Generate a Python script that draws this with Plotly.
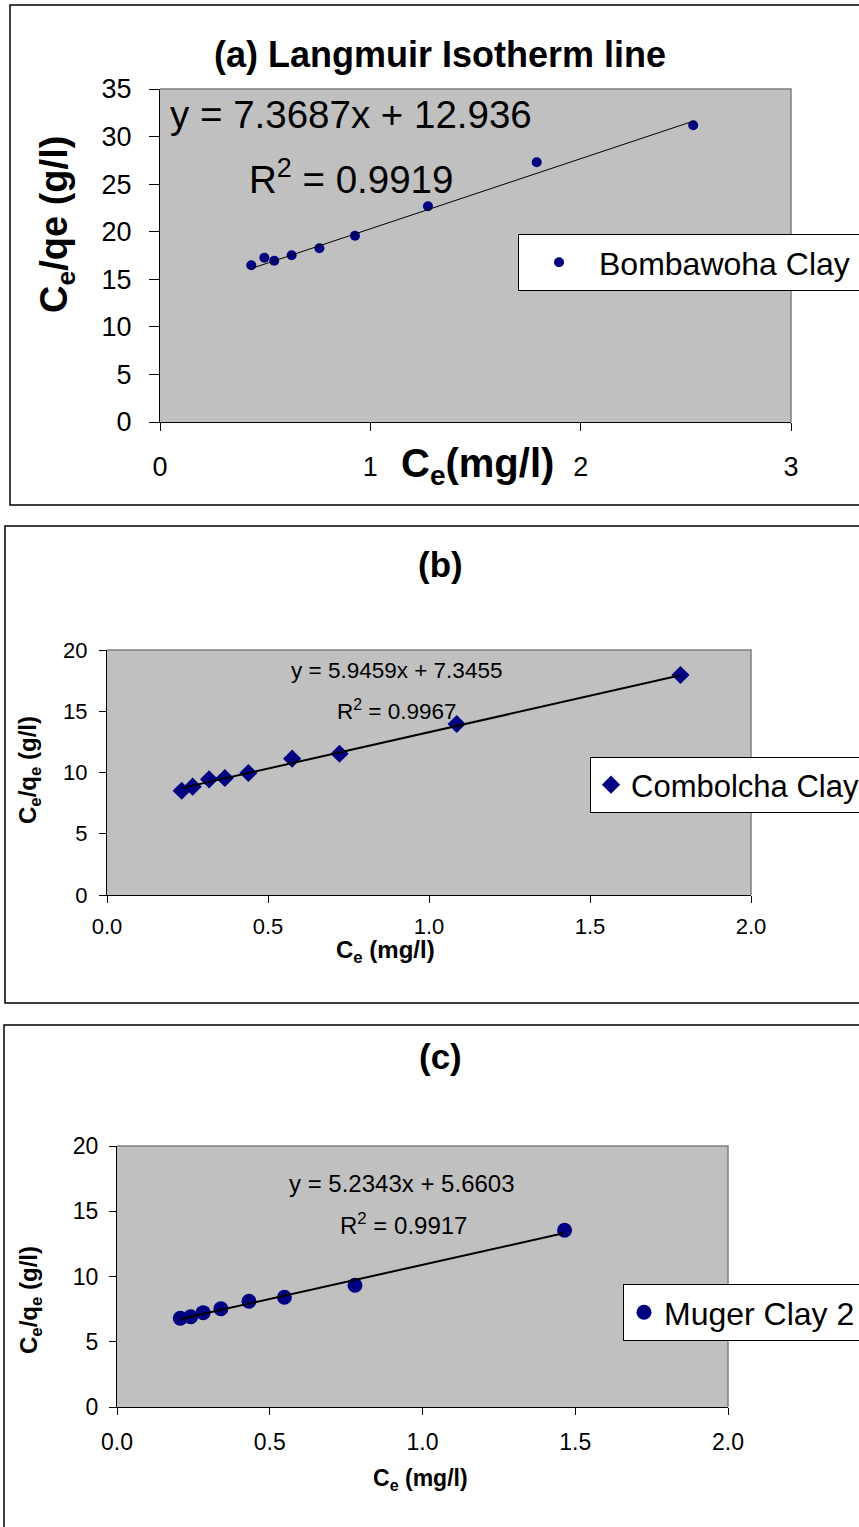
import plotly.graph_objects as go

W, H = 859, 1527

# ---- data -------------------------------------------------------------
bomb_ce = [0.434, 0.496, 0.543, 0.626, 0.758, 0.927, 1.274, 1.791, 2.535]
bomb_ratio = [16.47, 17.27, 16.95, 17.52, 18.26, 19.58, 22.67, 27.30, 31.19]
bomb_fit = (7.3687, 12.936, 0.9919)

comb_ce = [0.232, 0.266, 0.317, 0.366, 0.439, 0.575, 0.722, 1.086, 1.781]
comb_ratio = [8.51, 8.84, 9.44, 9.55, 9.96, 11.13, 11.53, 13.96, 17.96]
comb_fit = (5.9459, 7.3455, 0.9967)

mug_ce = [0.207, 0.241, 0.282, 0.340, 0.432, 0.548, 0.779, 1.465]
mug_ratio = [6.80, 6.92, 7.23, 7.53, 8.10, 8.41, 9.33, 13.54]
mug_fit = (5.2343, 5.6603, 0.9917)

xticks_a = [0, 1, 2, 3]
xticks_bc = [0.0, 0.5, 1.0, 1.5, 2.0]

NAVY = "#000080"
FONT = "Liberation Sans, Arial, sans-serif"


def px_x(p):
    return p / W


def px_y(p):
    return 1 - p / H


fig = go.Figure()


def add_panel(idx, xs, ys, fit, name, symbol, msize, lw, legend):
    xa = "x" if idx == 1 else f"x{idx}"
    ya = "y" if idx == 1 else f"y{idx}"
    fig.add_trace(go.Scatter(
        x=xs, y=ys, mode="markers", name=name, legend=legend,
        marker=dict(symbol=symbol, size=msize, color=NAVY,
                    line=dict(width=0)),
        xaxis=xa, yaxis=ya))
    slope, icpt, _ = fit
    x0, x1 = min(xs), max(xs)
    fig.add_trace(go.Scatter(
        x=[x0, x1], y=[slope * x0 + icpt, slope * x1 + icpt],
        mode="lines", line=dict(color="black", width=lw),
        showlegend=False, hoverinfo="skip", xaxis=xa, yaxis=ya))


add_panel(1, bomb_ce, bomb_ratio, bomb_fit, "Bombawoha Clay", "circle", 10, 1, "legend")
add_panel(2, comb_ce, comb_ratio, comb_fit, "Combolcha Clay", "diamond", 14, 2, "legend2")
add_panel(3, mug_ce, mug_ratio, mug_fit, "Muger Clay 2", "circle", 15, 2, "legend3")


def axis_common(size, ticklen, standoff):
    return dict(showgrid=False, zeroline=False, showline=True,
                linecolor="black", linewidth=1, ticks="outside",
                ticklen=ticklen, tickcolor="black", tickwidth=1,
                ticklabelstandoff=standoff,
                tickfont=dict(family=FONT, size=size, color="black"),
                fixedrange=True)


# plot-area rectangles in pixels: (left, right, top, bottom)
areas = {
    1: (160, 791, 89, 422),
    2: (107, 751, 650, 895),
    3: (117, 728, 1146, 1407),
}

L, R, T, B = areas[1]
fig.update_layout(
    xaxis=dict(domain=[px_x(L), px_x(R)], range=[0, 3], tickvals=xticks_a,
               anchor="y", **axis_common(27, 8, 13)),
    yaxis=dict(domain=[px_y(B), px_y(T)], range=[0, 35], dtick=5,
               anchor="x", **axis_common(27, 10, 12)),
)
L, R, T, B = areas[2]
fig.update_layout(
    xaxis2=dict(domain=[px_x(L), px_x(R)], range=[0, 2], tickvals=xticks_bc,
                tickformat=".1f", anchor="y2", **axis_common(22, 7, 5)),
    yaxis2=dict(domain=[px_y(B), px_y(T)], range=[0, 20], dtick=5,
                anchor="x2", **axis_common(22, 7, 7)),
)
L, R, T, B = areas[3]
fig.update_layout(
    xaxis3=dict(domain=[px_x(L), px_x(R)], range=[0, 2], tickvals=xticks_bc,
                tickformat=".1f", anchor="y3", **axis_common(23, 7, 7)),
    yaxis3=dict(domain=[px_y(B), px_y(T)], range=[0, 20], dtick=5,
                anchor="x3", **axis_common(23, 7, 6)),
)

shapes = []
# outer chart frames (right/bottom edges run past the page)
for (x0, y0, x1, y1) in [(10, 5, 900, 505), (5, 526, 900, 1003), (4, 1025, 900, 1600)]:
    shapes.append(dict(type="rect", xref="paper", yref="paper",
                       x0=px_x(x0), x1=px_x(x1), y0=px_y(y1), y1=px_y(y0),
                       line=dict(color="black", width=1.5)))
# grey plot-area borders (top / right)
for (l, r, t, b) in areas.values():
    shapes.append(dict(type="path", xref="paper", yref="paper",
                       path=f"M {px_x(l)},{px_y(t)} L {px_x(r)},{px_y(t)} L {px_x(r)},{px_y(b)}",
                       line=dict(color="#808080", width=1.5)))

ann = []


def text(x, y, s, size, bold=False, angle=0, xanchor="center"):
    if bold:
        s = f"<b>{s}</b>"
    ann.append(dict(x=px_x(x), y=px_y(y), xref="paper", yref="paper",
                    text=s, showarrow=False, textangle=angle,
                    xanchor=xanchor, yanchor="middle",
                    font=dict(family=FONT, size=size, color="black")))


# panel (a)
text(440, 54, "(a) Langmuir Isotherm line", 36, bold=True)
text(478, 466, "C<sub>e</sub>(mg/l)", 40, bold=True)
text(57, 225, "C<sub>e</sub>/qe (g/l)", 38, bold=True, angle=-90)
text(168, 115, f"y = {bomb_fit[0]}x + {bomb_fit[1]}", 38.5, xanchor="left")
text(247, 177, f"R<sup>2</sup> = {bomb_fit[2]}", 38.5, xanchor="left")

# panel (b)
text(440, 565, "(b)", 35, bold=True)
text(385, 951, "C<sub>e</sub> (mg/l)", 24, bold=True)
text(30, 770, "C<sub>e</sub>/q<sub>e</sub> (g/l)", 24, bold=True, angle=-90)
text(396, 671, f"y = {comb_fit[0]}x + {comb_fit[1]}", 22.5)
text(396, 710, f"R<sup>2</sup> = {comb_fit[2]}", 22.5)

# panel (c)
text(440, 1056, "(c)", 35, bold=True)
text(420, 1479, "C<sub>e</sub> (mg/l)", 23, bold=True)
text(30, 1300, "C<sub>e</sub>/q<sub>e</sub> (g/l)", 24, bold=True, angle=-90)
text(402, 1183, f"y = {mug_fit[0]}x + {mug_fit[1]}", 24)
text(403, 1224, f"R<sup>2</sup> = {mug_fit[2]}", 24)


def legend_box(x, y, size, itemwidth=30, entrywidth=380):
    return dict(x=px_x(x), y=px_y(y), xanchor="left", yanchor="top",
                orientation="h", entrywidth=entrywidth,
                entrywidthmode="pixels",
                bgcolor="white", bordercolor="black", borderwidth=1,
                font=dict(family=FONT, size=size, color="black"),
                itemwidth=itemwidth)


fig.update_layout(
    width=W, height=H,
    margin=dict(l=0, r=0, t=0, b=0, pad=0, autoexpand=False),
    paper_bgcolor="white",
    plot_bgcolor="#C0C0C0",
    showlegend=True,
    legend=legend_box(518, 234, 32, itemwidth=70),
    legend2=legend_box(590, 757, 31, itemwidth=30),
    legend3=legend_box(623, 1284, 32, itemwidth=30),
    shapes=shapes,
    annotations=ann,
)

# page sized exactly to the figure
fig.write_html(
    "out.html",
    post_script="document.body.style.margin='0';"
                "document.body.style.overflow='hidden';",
)
